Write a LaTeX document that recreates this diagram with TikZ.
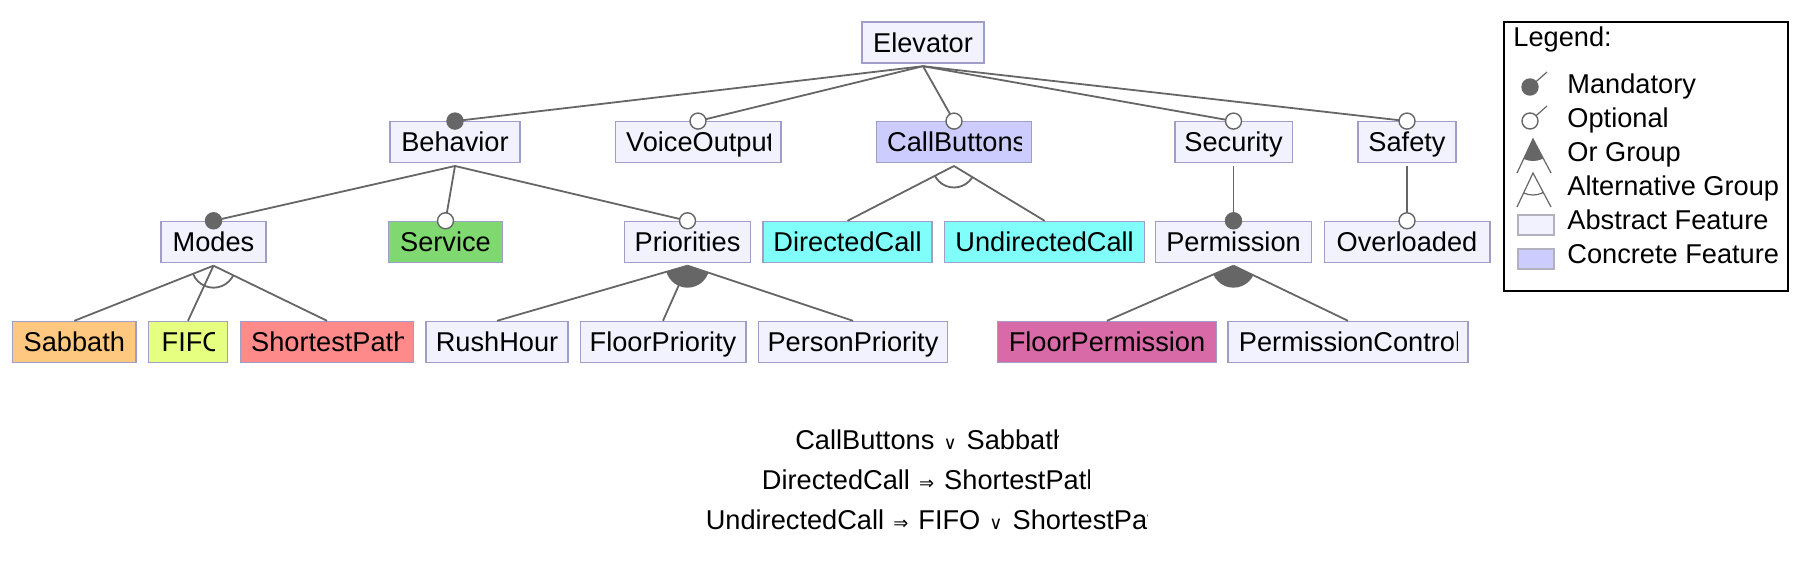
\documentclass[tikz,border=0pt]{standalone}
\usepackage{fontspec}
\setmainfont{Liberation Sans}
\newfontfamily\symf{DejaVu Sans}
\definecolor{edgegray}{RGB}{102,102,102}
\definecolor{bord}{RGB}{158,158,200}
\definecolor{legbord}{RGB}{178,178,190}
\definecolor{absfill}{RGB}{242,242,255}
\definecolor{concfill}{RGB}{204,204,255}
\definecolor{servfill}{RGB}{128,217,112}
\definecolor{callfill}{RGB}{128,255,250}
\definecolor{sabfill}{RGB}{255,200,128}
\definecolor{fifofill}{RGB}{230,255,128}
\definecolor{pathfill}{RGB}{255,138,138}
\definecolor{permfill}{RGB}{217,106,168}
\newcommand\cut[2]{\tikz[baseline=0pt]{\useasboundingbox (0pt,-3pt) rectangle (#1,10pt);\clip (0pt,-6pt) rectangle (#1,14pt);\node[overlay,anchor=base west,inner sep=0pt,draw=none,fill=none] at (0pt,0pt) {#2};}}
\newcommand\op[1]{\kern0.8pt{\symf\fontsize{9}{10}\selectfont #1}\kern1.2pt\relax}
\begin{document}
\begin{tikzpicture}[x=0.5pt, y=-0.5pt,
  feat/.style={draw=bord, fill=absfill, line width=0.7pt, inner xsep=4pt, inner ysep=0pt, minimum height=20.5pt, text height=9.7pt, text depth=0pt, font=\fontsize{13.6}{16}\selectfont},
  link/.style={draw=edgegray, line width=0.9pt},
  mand/.style={circle, draw=edgegray, fill=edgegray, line width=0.7pt, inner sep=0pt, minimum size=8pt},
  opt/.style={mand, fill=white},
  cons/.style={inner sep=0pt, text height=9.7pt, text depth=0pt, font=\fontsize{13.6}{16}\selectfont},
  legtext/.style={anchor=base west, inner sep=0pt, font=\fontsize{13.6}{16}\selectfont},
  legbox/.style={draw=legbord, line width=0.7pt, minimum width=18pt, minimum height=10pt, inner sep=0pt}]
\useasboundingbox (0,0) rectangle (1794,566);
% features
\node[feat, minimum width=61pt] (elevator) at (923,42.5) {Elevator};
\node[feat, minimum width=65pt] (behavior) at (455,142.3) {Behavior};
\node[feat, inner xsep=5.25pt] (voice) at (698,142.3) {\cut{72.3pt}{VoiceOutput}};
\node[feat, fill=concfill, inner xsep=5.25pt] (callbtn) at (954,142.3) {\cut{67.2pt}{CallButtons}};
\node[feat, minimum width=58.7pt] (security) at (1233.5,142.3) {Security};
\node[feat, minimum width=49pt] (safety) at (1407,142.3) {Safety};
\node[feat, minimum width=52.6pt] (modes) at (213.5,242) {Modes};
\node[feat, fill=servfill, minimum width=57pt] (service) at (445.5,242) {Service};
\node[feat, minimum width=62.8pt] (priorities) at (687.5,242) {Priorities};
\node[feat, fill=callfill, minimum width=84.5pt] (directed) at (847.5,242) {DirectedCall};
\node[feat, fill=callfill, minimum width=100pt] (undirected) at (1044.6,242) {UndirectedCall};
\node[feat, minimum width=78pt] (permission) at (1233.5,242) {Permission};
\node[feat, minimum width=82.8pt] (overloaded) at (1407,242) {Overloaded};
\node[feat, fill=sabfill, minimum width=61.7pt] (sabbath) at (74.3,342) {Sabbath};
\node[feat, fill=fifofill, inner xsep=6.5pt] (fifo) at (188,342) {\cut{26.75pt}{FIFO}};
\node[feat, fill=pathfill, inner xsep=5.25pt] (shortest) at (327,342) {\cut{76.25pt}{ShortestPath}};
\node[feat, minimum width=71pt] (rushhour) at (497,342) {RushHour};
\node[feat, minimum width=82.8pt] (floorprio) at (663,342) {FloorPriority};
\node[feat, minimum width=94.6pt] (personprio) at (853,342) {PersonPriority};
\node[feat, fill=permfill, minimum width=109.3pt] (floorperm) at (1107,342) {FloorPermission};
\node[feat, inner xsep=5.25pt] (permctrl) at (1348,342) {\cut{109.5pt}{PermissionControl}};
% edges
\draw[link] ([yshift=-1.25pt]elevator.south) -- (behavior.north);
\draw[link] ([yshift=-1.25pt]elevator.south) -- (voice.north);
\draw[link] ([yshift=-1.25pt]elevator.south) -- (callbtn.north);
\draw[link] ([yshift=-1.25pt]elevator.south) -- (security.north);
\draw[link] ([yshift=-1.25pt]elevator.south) -- (safety.north);
\draw[link] ([yshift=-1.25pt]behavior.south) -- (modes.north);
\draw[link] ([yshift=-1.25pt]behavior.south) -- (service.north);
\draw[link] ([yshift=-1.25pt]behavior.south) -- (priorities.north);
\draw[link] ([yshift=-1.25pt]security.south) -- (permission.north);
\draw[link] ([yshift=-1.25pt]safety.south) -- (overloaded.north);
\draw[link] ([yshift=-1.25pt]callbtn.south) -- (directed.north);
\draw[link] ([yshift=-1.25pt]callbtn.south) -- (undirected.north);
\draw[link] ([yshift=-1.25pt]modes.south) -- (sabbath.north);
\draw[link] ([yshift=-1.25pt]modes.south) -- (fifo.north);
\draw[link] ([yshift=-1.25pt]modes.south) -- (shortest.north);
\draw[link] ([yshift=-1.25pt]priorities.south) -- (rushhour.north);
\draw[link] ([yshift=-1.25pt]priorities.south) -- (floorprio.north);
\draw[link] ([yshift=-1.25pt]priorities.south) -- (personprio.north);
\draw[link] ([yshift=-1.25pt]permission.south) -- (floorperm.north);
\draw[link] ([yshift=-1.25pt]permission.south) -- (permctrl.north);
% groups
\begin{scope}
\clip ([yshift=-1.25pt]callbtn.south) -- (directed.north) -- (undirected.north) -- cycle;
\draw[link] ([yshift=-1.25pt]callbtn.south) circle (10.75pt);
\end{scope}
\begin{scope}
\clip ([yshift=-1.25pt]modes.south) -- (sabbath.north) -- (shortest.north) -- cycle;
\draw[link] ([yshift=-1.25pt]modes.south) circle (11pt);
\end{scope}
\begin{scope}
\clip ([yshift=-1.25pt]priorities.south) -- (rushhour.north) -- (personprio.north) -- cycle;
\fill[edgegray] ([yshift=-1.25pt]priorities.south) circle (11pt);
\end{scope}
\begin{scope}
\clip ([yshift=-1.25pt]permission.south) -- (floorperm.north) -- (permctrl.north) -- cycle;
\fill[edgegray] ([yshift=-1.25pt]permission.south) circle (11pt);
\end{scope}
% markers
\node[mand] (dotbehavior) at (behavior.north) {};
\node[opt] (dotvoice) at (voice.north) {};
\node[opt] (dotcallbtn) at (callbtn.north) {};
\node[opt] (dotsecurity) at (security.north) {};
\node[opt] (dotsafety) at (safety.north) {};
\node[mand] (dotmodes) at (modes.north) {};
\node[opt] (dotservice) at (service.north) {};
\node[opt] (dotpriorities) at (priorities.north) {};
\node[mand] (dotpermission) at (permission.north) {};
\node[opt] (dotoverloaded) at (overloaded.north) {};
% constraints
\node[cons] (con1) at (926.9,440) {\cut{132pt}{CallButtons \op{∨} Sabbath}};
\node[cons] (con2) at (925.5,480) {\cut{164pt}{DirectedCall \op{⇒} ShortestPath}};
\node[cons] (con3) at (926.4,520) {\cut{221pt}{UndirectedCall \op{⇒} FIFO \op{∨} ShortestPath}};
% legend
\draw[line width=1pt] (1504,22) rectangle (1788,291);
\node[legtext] (legtitle) at (1513,47) {Legend:};
\node[legtext] (lmand) at (1567,93.5) {Mandatory};
\node[legtext] (lopt) at (1567,128) {Optional};
\node[legtext] (lor) at (1567,162) {Or Group};
\node[legtext] (lalt) at (1567,196) {Alternative Group};
\node[legtext] (labs) at (1567,230) {Abstract Feature};
\node[legtext] (lconc) at (1567,264) {Concrete Feature};
\draw[link, line width=0.6pt] (1530,87) -- (1547,72);
\node[mand] (imand) at (1530,87) {};
\draw[link, line width=0.6pt] (1530,121) -- (1547,106);
\node[opt] (iopt) at (1530,121) {};
\draw[link, line width=0.6pt] (1517,173) -- (1533,139) -- (1551,173);
\begin{scope}
\clip (1533,139) -- (1517,173) -- (1551,173) -- cycle;
\fill[edgegray] (1533,139) circle (11pt);
\end{scope}
\draw[link, line width=0.6pt] (1517,207) -- (1533,173) -- (1551,207);
\begin{scope}
\clip (1533,173) -- (1517,207) -- (1551,207) -- cycle;
\draw[link, line width=0.6pt] (1533,173) circle (11pt);
\end{scope}
\node[legbox, fill=absfill] (iabs) at (1536,225) {};
\node[legbox, fill=concfill] (iconc) at (1536,259) {};
\end{tikzpicture}
\end{document}
